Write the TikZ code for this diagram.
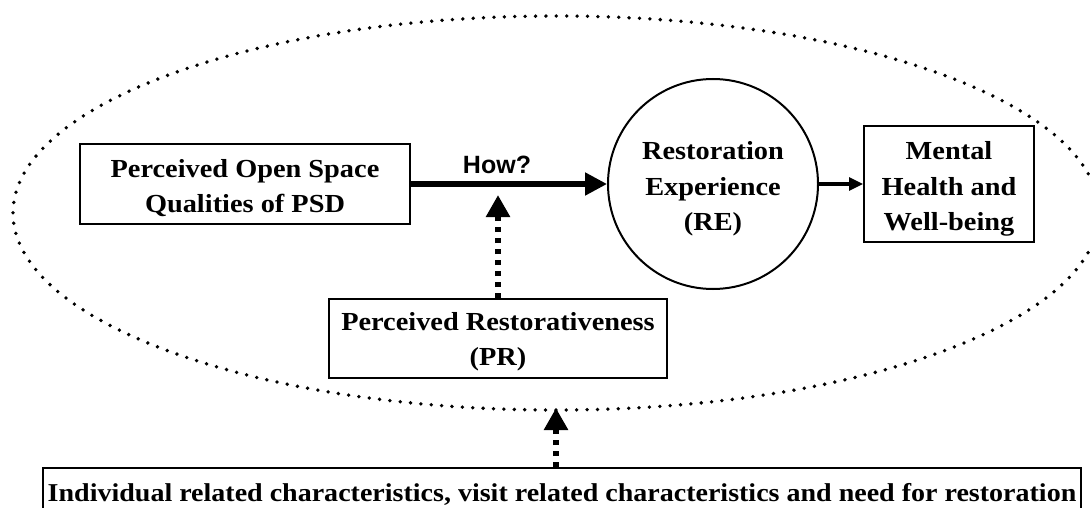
\documentclass[tikz,border=0pt]{standalone}
\usepackage{fontspec}
\setmainfont{Liberation Serif}[FakeStretch=1.09]
\newfontfamily\howfont{Liberation Sans}
\usetikzlibrary{arrows.meta}
\tikzset{
  txt/.style={font=\bfseries\fontsize{26}{35.5}\selectfont, align=center, inner sep=0pt},
  boxn/.style={draw, line width=2pt, inner sep=0pt},
  dotarrow/.style={line width=6pt, dash pattern=on 5pt off 6pt, -{Triangle[length=22pt,width=23pt]}},
}
\begin{document}
\begin{tikzpicture}[x=1pt,y=-1pt]
\useasboundingbox (0,0) rectangle (1090,508);
\clip (0,0) rectangle (1090,508);
% dotted ellipse
\draw[line width=3.8pt, line cap=round, dash pattern=on 0pt off 10.4pt] (556,213) ellipse [x radius=543, y radius=197];
% frames
\node[boxn, minimum width=330pt, minimum height=79pt] (b1) at (245,184) {};
\node[boxn, circle, minimum size=210pt] (re) at (713,184) {};
\node[boxn, minimum width=170pt, minimum height=116pt] (mh) at (949,184) {};
\node[boxn, minimum width=338pt, minimum height=79pt] (pr) at (498,338.5) {};
\node[boxn, minimum width=1038pt, minimum height=60pt] (bot) at (562,498) {};
% texts
\node[txt] (b1t) at ([yshift=-4pt]b1.center) {Perceived Open Space\\Qualities of PSD};
\node[txt] (ret) at ([yshift=-5pt]re.center) {Restoration\\Experience\\(RE)};
\node[txt] (mht) at ([yshift=-5pt]mh.center) {Mental\\Health and\\Well-being};
\node[txt] (prt) at ([yshift=-3pt]pr.center) {Perceived Restorativeness\\(PR)};
\node[txt, font=\bfseries\fontsize{25.7}{30}\selectfont, anchor=base] (bottxt) at (562,501) {Individual related characteristics, visit related characteristics and need for restoration};
\node[font=\howfont\bfseries\fontsize{25}{30}\selectfont, inner sep=0pt] (how) at (497,165) {How?};
\coordinate (howtip) at (498,195);
\coordinate (elltip) at (556,408);
% connectors
\draw[line width=5pt, -{Triangle[length=22pt,width=22pt]}] (b1.east) -- (re.west);
\draw[line width=3pt, -{Triangle[length=14pt,width=13pt]}] (re.east) -- (mh.west);
\draw[dotarrow] (pr.north) -- (howtip);
\draw[dotarrow] (bot.north -| elltip) -- (elltip);
\end{tikzpicture}
\end{document}
